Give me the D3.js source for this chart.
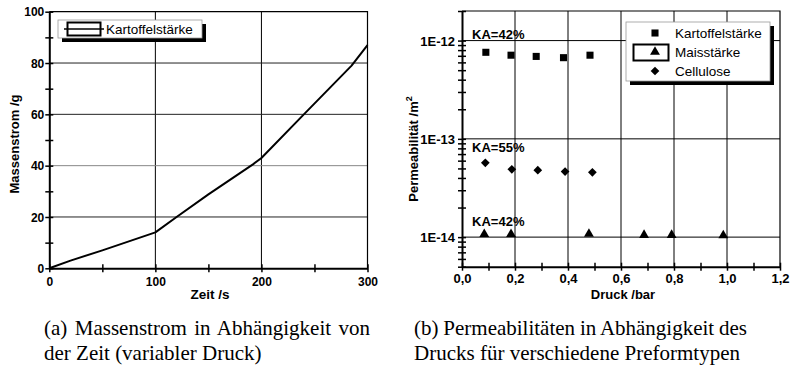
<!DOCTYPE html>
<html><head><meta charset="utf-8">
<script src="https://cdn.jsdelivr.net/npm/d3@7"></script>
<style>body{margin:0;background:#fff}svg{display:block}</style>
</head><body>
<svg id="c" width="792" height="373"></svg>
<script>
// ---- data: (a) Massenstrom vs Zeit
const zeit = [0, 20, 50, 100, 120, 150, 192, 200, 240, 285, 300];
const masse = [0, 3, 7, 14, 20, 28.8, 40.5, 43, 60, 79, 87];
const seriesA = "Kartoffelstärke";
const xTicksA = [0, 100, 200, 300];
const yTicksA = [0, 20, 40, 60, 80, 100];

// ---- data: (b) Permeabilität vs Druck
const kartDruck = [0.09, 0.185, 0.28, 0.383, 0.483];
const kartPerm  = [7.6e-13, 7.1e-13, 6.9e-13, 6.7e-13, 7.1e-13];
const maisDruck = [0.084, 0.185, 0.479, 0.687, 0.791, 0.986];
const maisPerm  = [1.07e-14, 1.07e-14, 1.08e-14, 1.05e-14, 1.05e-14, 1.04e-14];
const cellDruck = [0.088, 0.188, 0.286, 0.389, 0.492];
const cellPerm  = [5.7e-14, 4.9e-14, 4.8e-14, 4.64e-14, 4.57e-14];
const seriesB = ["Kartoffelstärke", "Maisstärke", "Cellulose"];
const xTicksB = [0, 0.2, 0.4, 0.6, 0.8, 1.0, 1.2];
const yTicksB = [1e-14, 1e-13, 1e-12];
const yLabelsB = ["1E-14", "1E-13", "1E-12"];
const notes = [{t:"KA=42%", x:0.038, v:1.03e-12}, {t:"KA=55%", x:0.038, v:7.3e-14}, {t:"KA=42%", x:0.038, v:1.3e-14}];

const captionA = ["(a) Massenstrom in Abhängigkeit von", "der Zeit (variabler Druck)"];
const captionB = ["(b) Permeabilitäten in Abhängigkeit des", "Drucks für verschiedene Preformtypen"];

const svg = d3.select("#c");
const SANS = "'Liberation Sans', Arial, sans-serif";
const SERIF = "'Liberation Serif', 'Times New Roman', serif";

// ================= Chart (a)
{
  const x = d3.scaleLinear().domain([0, 300]).range([49.3, 367.5]);
  const y = d3.scaleLinear().domain([0, 100]).range([268.3, 11.7]);
  const g = svg.append("g");
  g.selectAll(".gx").data(xTicksA.slice(1, -1)).join("line")
    .attr("x1", d => x(d)).attr("x2", d => x(d)).attr("y1", y(0)).attr("y2", y(100))
    .attr("stroke", "#000").attr("stroke-width", 1);
  g.selectAll(".gy").data(yTicksA.slice(1, -1)).join("line")
    .attr("y1", d => y(d)).attr("y2", d => y(d)).attr("x1", x(0)).attr("x2", x(300))
    .attr("stroke", d => d === 40 ? "#888" : "#222").attr("stroke-width", 1);
  g.append("path").attr("d", `M${x(0)},${y(100)}H${x(300)}V${y(0)}`)
    .attr("fill", "none").attr("stroke", "#000").attr("stroke-width", 1.2);
  const ax = d3.axisBottom(x).tickValues(d3.range(0, 301, 50)).tickSize(0).tickFormat(d => d % 100 === 0 ? d : "");
  const gx = g.append("g").attr("transform", `translate(0,${y(0)})`).call(ax);
  gx.select(".domain").attr("stroke-width", 2);
  gx.selectAll(".tick line").attr("y1", -4).attr("y2", 4).attr("stroke-width", 1.5);
  gx.selectAll(".tick text").attr("dy", null).attr("y", 17.5)
    .attr("font-family", SANS).attr("font-weight", "bold").attr("font-size", 12).attr("fill", "#000");
  const ay = d3.axisLeft(y).tickValues(d3.range(0, 101, 10)).tickSize(0).tickFormat(d => d % 20 === 0 ? d : "");
  const gy = g.append("g").attr("transform", `translate(${x(0)},0)`).call(ay);
  gy.select(".domain").attr("stroke-width", 2);
  gy.selectAll(".tick line").attr("x1", -4).attr("x2", 4).attr("stroke-width", 1.5);
  gy.selectAll(".tick text").attr("x", -5).attr("dy", "0.35em")
    .attr("font-family", SANS).attr("font-weight", "bold").attr("font-size", 12).attr("fill", "#000");
  const pts = zeit.map((t, i) => [t, masse[i]]);
  g.append("path").datum(pts)
    .attr("d", d3.line().x(d => x(d[0])).y(d => y(d[1])))
    .attr("fill", "none").attr("stroke", "#000").attr("stroke-width", 2).attr("stroke-linejoin", "round");
  g.append("text").attr("x", 210).attr("y", 299).attr("text-anchor", "middle")
    .attr("font-family", SANS).attr("font-weight", "bold").attr("font-size", 13.5).text("Zeit /s");
  g.append("text").attr("transform", `translate(19,144) rotate(-90)`).attr("text-anchor", "middle")
    .attr("font-family", SANS).attr("font-weight", "bold").attr("font-size", 13).text("Massenstrom /g");
  const L = g.append("g").attr("transform", "translate(58,20)");
  L.append("rect").attr("x", 4).attr("y", 4).attr("width", 144).attr("height", 18).attr("fill", "#000");
  L.append("rect").attr("x", 0).attr("y", 0).attr("width", 144).attr("height", 18).attr("fill", "#fff").attr("stroke", "#999").attr("stroke-width", 0.8);
  L.append("rect").attr("x", 9.5).attr("y", 2.5).attr("width", 33).attr("height", 13).attr("fill", "none").attr("stroke", "#000").attr("stroke-width", 2);
  L.append("line").attr("x1", 6).attr("x2", 46).attr("y1", 9).attr("y2", 9).attr("stroke", "#000").attr("stroke-width", 1.5);
  L.append("text").attr("x", 48).attr("y", 14).attr("font-family", SANS).attr("font-size", 13.5).text(seriesA);
}

// ================= Chart (b)
{
  const x = d3.scaleLinear().domain([0, 1.2]).range([462, 780]);
  const y = d3.scaleLog().domain([5e-15, 2e-12]).range([266.7, 11]);
  const g = svg.append("g");
  const fmt = d => d3.format(".1f")(d).replace(".", ",");
  g.selectAll(".gx").data(xTicksB.slice(1, -1)).join("line")
    .attr("x1", d => x(d)).attr("x2", d => x(d)).attr("y1", y.range()[0]).attr("y2", y.range()[1])
    .attr("stroke", "#000").attr("stroke-width", 1);
  g.selectAll(".gy").data(yTicksB).join("line")
    .attr("y1", d => y(d)).attr("y2", d => y(d)).attr("x1", x(0)).attr("x2", x(1.2))
    .attr("stroke", "#000").attr("stroke-width", 1);
  g.append("path").attr("d", `M${x(0)},${y(2e-12)}H${x(1.2)}V${y(5e-15)}`)
    .attr("fill", "none").attr("stroke", "#000").attr("stroke-width", 1.2);
  const ax = d3.axisBottom(x).tickValues(d3.range(0, 13).map(i => i / 10)).tickSize(0)
    .tickFormat(d => (Math.round(d * 10) % 2 === 0) ? fmt(d) : "");
  const gx = g.append("g").attr("transform", `translate(0,${y(5e-15)})`).call(ax);
  gx.select(".domain").attr("stroke-width", 2);
  gx.selectAll(".tick line").attr("y1", -4).attr("y2", 4).attr("stroke-width", 1.5);
  gx.selectAll(".tick text").attr("dy", null).attr("y", 16.5)
    .attr("font-family", SANS).attr("font-weight", "bold").attr("font-size", 13).attr("fill", "#000");
  const minors = [];
  [1e-15, 1e-14, 1e-13, 1e-12].forEach(dec => { for (let k = 1; k <= 9; k++) { const v = k * dec; if (v >= 5e-15 && v <= 2e-12) minors.push(v); } });
  const ay = d3.axisLeft(y).tickValues(minors).tickSize(0)
    .tickFormat(d => { const i = yTicksB.findIndex(t => Math.abs(t - d) / t < 1e-6); return i >= 0 ? yLabelsB[i] : ""; });
  const gy = g.append("g").attr("transform", `translate(${x(0)},0)`).call(ay);
  gy.select(".domain").attr("stroke-width", 2);
  gy.selectAll(".tick line").attr("x1", -4).attr("x2", 4).attr("stroke-width", 1.5);
  gy.selectAll(".tick text").attr("x", -7).attr("dy", "0.35em")
    .attr("font-family", SANS).attr("font-weight", "bold").attr("font-size", 13).attr("fill", "#000");
  g.selectAll(".note").data(notes).join("text")
    .attr("x", d => x(d.x)).attr("y", d => y(d.v))
    .attr("font-family", SANS).attr("font-weight", "bold").attr("font-size", 13).text(d => d.t);
  const sym = [d3.symbolSquare, d3.symbolTriangle, d3.symbolSquare];
  const sizes = [50, 42, 38];
  const rot = [0, 0, 45];
  const sets = [[kartDruck, kartPerm], [maisDruck, maisPerm], [cellDruck, cellPerm]];
  sets.forEach(([xs, ys], si) => {
    g.selectAll(null).data(xs.map((v, i) => [v, ys[i]])).join("path")
      .attr("transform", d => `translate(${x(d[0])},${y(d[1])}) rotate(${rot[si]})`)
      .attr("d", d3.symbol(sym[si], sizes[si])).attr("fill", "#000");
  });
  g.append("text").attr("x", 623).attr("y", 298.5).attr("text-anchor", "middle")
    .attr("font-family", SANS).attr("font-weight", "bold").attr("font-size", 13).text("Druck /bar");
  const yl = g.append("text").attr("transform", `translate(418,149) rotate(-90)`).attr("text-anchor", "middle")
    .attr("font-family", SANS).attr("font-weight", "bold").attr("font-size", 13);
  yl.append("tspan").text("Permeabilität /m");
  yl.append("tspan").attr("dy", -6).attr("font-size", 9).text("2");
  const L = g.append("g").attr("transform", "translate(626,22)");
  L.append("rect").attr("x", 4).attr("y", 4).attr("width", 144).attr("height", 59).attr("fill", "#000");
  L.append("rect").attr("x", 0).attr("y", 0).attr("width", 144).attr("height", 59).attr("fill", "#fff").attr("stroke", "#999").attr("stroke-width", 0.8);
  L.append("rect").attr("x", 7.5).attr("y", 22.5).attr("width", 35).attr("height", 16).attr("fill", "none").attr("stroke", "#000").attr("stroke-width", 2);
  seriesB.forEach((s, i) => {
    const cy = 11 + i * 19;
    L.append("path").attr("transform", `translate(29,${cy}) rotate(${rot[i]})`).attr("d", d3.symbol(sym[i], sizes[i])).attr("fill", "#000");
    L.append("text").attr("x", 49).attr("y", cy + 5).attr("font-family", SANS).attr("font-size", 13.5).text(s);
  });
}

// ================= captions
function caption(lines, x0, x1, fs) {
  lines.forEach((t, i) => {
    const el = svg.append("text").attr("x", x0).attr("y", 335 + i * 25)
      .attr("font-family", SERIF).attr("font-size", fs).text(t);
    if (i === 0) {
      const w = el.node().getComputedTextLength();
      const gaps = t.split(" ").length - 1;
      el.attr("word-spacing", (x1 - x0 - w) / gaps);
    }
  });
}
caption(captionA, 44, 370, 21);
caption(captionB, 414, 747, 21);
</script>
</body></html>
